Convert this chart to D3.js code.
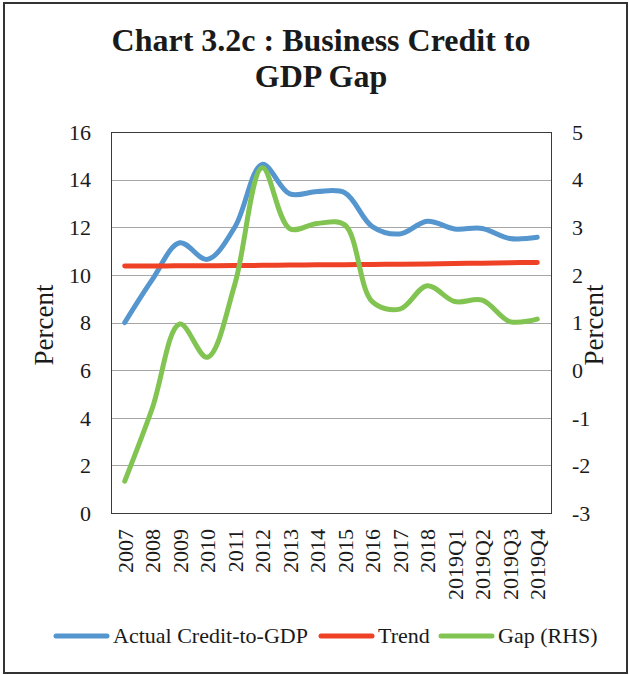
<!DOCTYPE html>
<html>
<head>
<meta charset="utf-8">
<script src="https://cdn.jsdelivr.net/npm/d3@7"></script>
<style>
  html, body { margin: 0; padding: 0; background: #fff; }
  svg { display: block; }
  text { font-family: "Liberation Serif", "Times New Roman", serif; fill: #1a1a1a; }
</style>
</head>
<body>
<svg id="chart" width="629" height="675"></svg>
<script>
// Business credit-to-GDP: actual ratio, its trend, and the gap between them
const categories = ["2007","2008","2009","2010","2011","2012","2013","2014","2015",
  "2016","2017","2018","2019Q1","2019Q2","2019Q3","2019Q4"];
const actualCredit = [8.0, 9.8, 11.35, 10.65, 12.0, 14.64, 13.4, 13.5, 13.45,
  12.03, 11.72, 12.25, 11.93, 11.95, 11.53, 11.58];
const trend = [10.37, 10.37, 10.38, 10.38, 10.39, 10.40, 10.41, 10.42, 10.43,
  10.44, 10.45, 10.46, 10.48, 10.49, 10.51, 10.52];
const gapRHS = [-2.33, -0.8, 0.97, 0.27, 1.8, 4.25, 2.97, 3.08, 3.05,
  1.44, 1.28, 1.77, 1.44, 1.47, 1.02, 1.07];
const leftTicks = [0, 2, 4, 6, 8, 10, 12, 14, 16];
const rightTicks = [-3, -2, -1, 0, 1, 2, 3, 4, 5];
const seriesNames = ["Actual Credit-to-GDP", "Trend", "Gap (RHS)"];
const seriesColors = ["#5596CF", "#EE4126", "#82C452"];

const svg = d3.select("#chart");
const plot = { left: 111, right: 551, top: 132, bottom: 513 };
const fmt = d => String(d); // plain hyphen for negatives

// outer frame
svg.append("rect").attr("x", 4).attr("y", 3).attr("width", 623).attr("height", 670)
  .attr("fill", "none").attr("stroke", "#333").attr("stroke-width", 2);

// title
const title = svg.append("text").attr("text-anchor", "middle")
  .attr("font-size", 32).attr("font-weight", "bold");
title.append("tspan").attr("x", 321).attr("y", 51).text("Chart 3.2c : Business Credit to");
title.append("tspan").attr("x", 321).attr("y", 87).text("GDP Gap");

const x = d3.scaleBand().domain(categories).range([plot.left, plot.right]);
const yL = d3.scaleLinear().domain([0, 16]).range([plot.bottom, plot.top]);
const yR = d3.scaleLinear().domain([-3, 5]).range([plot.bottom, plot.top]);

// gridlines
svg.append("g").selectAll("line").data(leftTicks.slice(1, -1)).join("line")
  .attr("x1", plot.left).attr("x2", plot.right)
  .attr("y1", d => Math.round(yL(d)) + 0.5).attr("y2", d => Math.round(yL(d)) + 0.5)
  .attr("stroke", "#a6a6a6").attr("stroke-width", 1);

// plot box
svg.append("rect").attr("x", plot.left + 0.5).attr("y", plot.top + 0.5)
  .attr("width", plot.right - plot.left).attr("height", plot.bottom - plot.top)
  .attr("fill", "none").attr("stroke", "#3a3a3a").attr("stroke-width", 1);

// left axis
const axL = svg.append("g").attr("transform", `translate(${plot.left},0)`)
  .call(d3.axisLeft(yL).tickValues(leftTicks).tickSize(0).tickPadding(20).tickFormat(fmt));
axL.select(".domain").remove();
axL.selectAll("text").attr("font-size", 22).attr("dy", "0.33em")
  .style("font-family", "Liberation Serif, serif").attr("fill", "#1a1a1a");

// right axis
const axR = svg.append("g").attr("transform", `translate(${plot.right},0)`)
  .call(d3.axisRight(yR).tickValues(rightTicks).tickSize(0).tickPadding(21).tickFormat(fmt));
axR.select(".domain").remove();
axR.selectAll("text").attr("font-size", 22).attr("dy", "0.33em")
  .style("font-family", "Liberation Serif, serif").attr("fill", "#1a1a1a");

// category axis, labels rotated
const axB = svg.append("g").attr("transform", `translate(0,${plot.bottom})`)
  .call(d3.axisBottom(x).tickSize(0).tickPadding(0));
axB.select(".domain").remove();
axB.selectAll("text").attr("font-size", 22)
  .style("font-family", "Liberation Serif, serif").attr("fill", "#1a1a1a")
  .attr("text-anchor", "end").attr("dy", null)
  .attr("transform", "translate(8,16) rotate(-90)").attr("x", 0).attr("y", 0);

// axis titles
const midY = 325;
svg.append("text").attr("transform", `translate(53,${midY}) rotate(-90)`)
  .attr("text-anchor", "middle").attr("font-size", 27).text("Percent");
svg.append("text").attr("transform", `translate(603,${midY}) rotate(-90)`)
  .attr("text-anchor", "middle").attr("font-size", 27).text("Percent");

// series lines
const cx = d => x(d) + x.bandwidth() / 2;
const lineL = d3.line().x((d, i) => cx(categories[i])).y(d => yL(d)).curve(d3.curveCatmullRom.alpha(0.5));
const lineR = d3.line().x((d, i) => cx(categories[i])).y(d => yR(d)).curve(d3.curveCatmullRom.alpha(0.5));

const lines = [
  { vals: actualCredit, gen: lineL, color: seriesColors[0] },
  { vals: trend, gen: lineL, color: seriesColors[1] },
  { vals: gapRHS, gen: lineR, color: seriesColors[2] }
];
svg.append("g").selectAll("path").data(lines).join("path")
  .attr("d", d => d.gen(d.vals)).attr("fill", "none")
  .attr("stroke", d => d.color).attr("stroke-width", 5)
  .attr("stroke-linecap", "round").attr("stroke-linejoin", "round");

// legend
const legendX = [56, 321, 441];
const lg = svg.append("g").selectAll("g").data(seriesNames).join("g")
  .attr("transform", (d, i) => `translate(${legendX[i]},636)`);
lg.append("line").attr("x1", 0).attr("x2", 51).attr("y1", 0).attr("y2", 0)
  .attr("stroke", (d, i) => seriesColors[i]).attr("stroke-width", 5).attr("stroke-linecap", "round");
lg.append("text").attr("x", 57).attr("y", 0).attr("dy", "0.33em").attr("font-size", 22).text(d => d);
</script>
</body>
</html>
